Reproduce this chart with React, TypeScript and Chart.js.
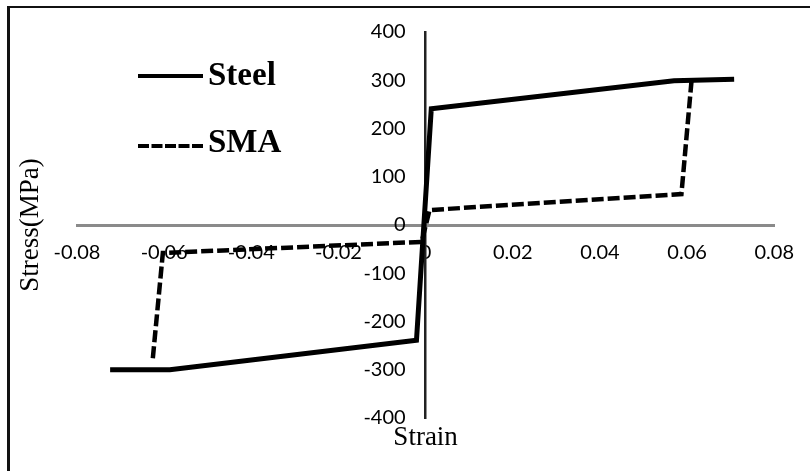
import React, { useEffect, useRef } from 'react';
import { Chart, registerables } from 'chart.js';

Chart.register(...registerables);

// ---- data ----
const seriesNames = ['Steel', 'SMA'];
const steelStrain = [-0.0724, -0.0587, -0.0021, 0.0013, 0.057, 0.0708];
const steelStress = [-300, -300, -239, 241, 299, 302];
const smaStrain = [-0.0626, -0.0603, -0.0009, 0.0009, 0.0587, 0.061];
const smaStress = [-276, -58, -35, 31, 64, 297];
const xTickValues = [-0.08, -0.06, -0.04, -0.02, 0, 0.02, 0.04, 0.06, 0.08];
const yTickValues = [-400, -300, -200, -100, 0, 100, 200, 300, 400];
const xAxisTitle = 'Strain';
const yAxisTitle = 'Stress(MPa)';

const toPoints = (xs: number[], ys: number[]) => xs.map((x, i) => ({ x, y: ys[i] }));
const fmtX = (v: number) => (v === 0 ? '0' : v.toFixed(2));

const insetLegend = {
  id: 'insetLegend',
  afterDraw(chart: any, _args: any, opts: any) {
    const ctx = chart.ctx as CanvasRenderingContext2D;
    chart.data.datasets.forEach((ds: any, i: number) => {
      const lineY = opts.lineY[i];
      const baseY = opts.baseY[i];
      ctx.save();
      ctx.strokeStyle = ds.borderColor;
      ctx.lineWidth = opts.lineWidth;
      ctx.lineCap = 'butt';
      ctx.setLineDash(ds.borderDash && ds.borderDash.length ? opts.dash : []);
      ctx.beginPath();
      ctx.moveTo(opts.x, lineY);
      ctx.lineTo(opts.x + opts.lineLength, lineY);
      ctx.stroke();
      ctx.setLineDash([]);
      ctx.font = opts.font;
      ctx.fillStyle = '#000';
      ctx.textAlign = 'left';
      ctx.textBaseline = 'alphabetic';
      ctx.fillText(ds.label, opts.x + opts.lineLength + opts.gap, baseY);
      ctx.restore();
    });
  },
};

export default function App() {
  const ref = useRef<HTMLCanvasElement | null>(null);

  useEffect(() => {
    if (!ref.current) return;
    const tickFont = { family: 'Lato', size: 20 };
    const titleFont = { family: '"Liberation Serif"', size: 27, lineHeight: 1.2 };
    const chart = new Chart(ref.current, {
      type: 'line',
      data: {
        datasets: [
          {
            label: seriesNames[0],
            data: toPoints(steelStrain, steelStress),
            borderColor: '#000',
            backgroundColor: '#000',
            borderWidth: 5,
            pointRadius: 0,
            tension: 0,
            xAxisID: 'x',
            yAxisID: 'y',
          },
          {
            label: seriesNames[1],
            data: toPoints(smaStrain, smaStress),
            borderColor: '#000',
            backgroundColor: '#000',
            borderWidth: 4.5,
            borderDash: [12, 4],
            pointRadius: 0,
            tension: 0,
            xAxisID: 'x',
            yAxisID: 'y',
          },
        ],
      },
      options: {
        responsive: false,
        animation: false,
        layout: { padding: { left: 10, right: 35, top: 30, bottom: 12.6 } },
        plugins: {
          legend: { display: false },
          tooltip: { enabled: false },
          insetLegend: {
            x: 138,
            lineLength: 65,
            gap: 5,
            lineY: [76, 146],
            baseY: [85, 152],
            lineWidth: 4,
            dash: [11, 2.5],
            font: 'bold 33px "Liberation Serif"',
          },
        } as any,
        scales: {
          x: {
            type: 'linear',
            axis: 'x',
            position: 'center',
            min: -0.08,
            max: 0.08,
            afterBuildTicks: (s: any) => {
              s.ticks = xTickValues.map((v) => ({ value: v }));
            },
            grid: { display: false, drawTicks: false },
            border: { display: true, color: '#8a8a8a', width: 3 },
            ticks: {
              font: tickFont,
              color: '#000',
              padding: 16,
              maxRotation: 0,
              autoSkip: false,
              callback: (v: any) => fmtX(Number(v)),
            },
          },
          y: {
            type: 'linear',
            axis: 'y',
            position: 'center',
            min: -400,
            max: 400,
            afterBuildTicks: (s: any) => {
              s.ticks = yTickValues.map((v) => ({ value: v }));
            },
            grid: { display: false, drawTicks: false },
            border: { display: true, color: '#222', width: 2.5 },
            ticks: {
              font: tickFont,
              color: '#000',
              padding: 20,
              autoSkip: false,
              callback: (v: any) => String(v),
            },
          },
          xTitle: {
            type: 'linear',
            axis: 'x',
            position: 'bottom',
            min: 0,
            max: 1,
            grid: { display: false, drawTicks: false },
            border: { display: false },
            ticks: { display: false },
            title: {
              display: true,
              text: xAxisTitle,
              font: titleFont,
              color: '#000',
              padding: { top: 4, bottom: 4 },
            },
          },
          yTitle: {
            type: 'linear',
            axis: 'y',
            position: 'left',
            min: 0,
            max: 1,
            grid: { display: false, drawTicks: false },
            border: { display: false },
            ticks: { display: false },
            title: {
              display: true,
              text: yAxisTitle,
              font: titleFont,
              color: '#000',
              padding: { top: 5, bottom: 29.6 },
            },
          },
        },
      } as any,
      plugins: [insetLegend as any],
    });
    return () => chart.destroy();
  }, []);

  return (
    <div
      style={{
        position: 'fixed',
        left: 0,
        top: 0,
        width: 810,
        height: 471,
        background: '#fff',
        overflow: 'hidden',
      }}
    >
      <div
        style={{
          position: 'absolute',
          left: 7,
          top: 6,
          width: 840,
          height: 500,
          borderLeft: '3px solid #111',
          borderTop: '2px solid #111',
        }}
      />
      <canvas
        ref={ref}
        width={810}
        height={471}
        style={{ position: 'absolute', left: 0, top: 0 }}
      />
    </div>
  );
}
